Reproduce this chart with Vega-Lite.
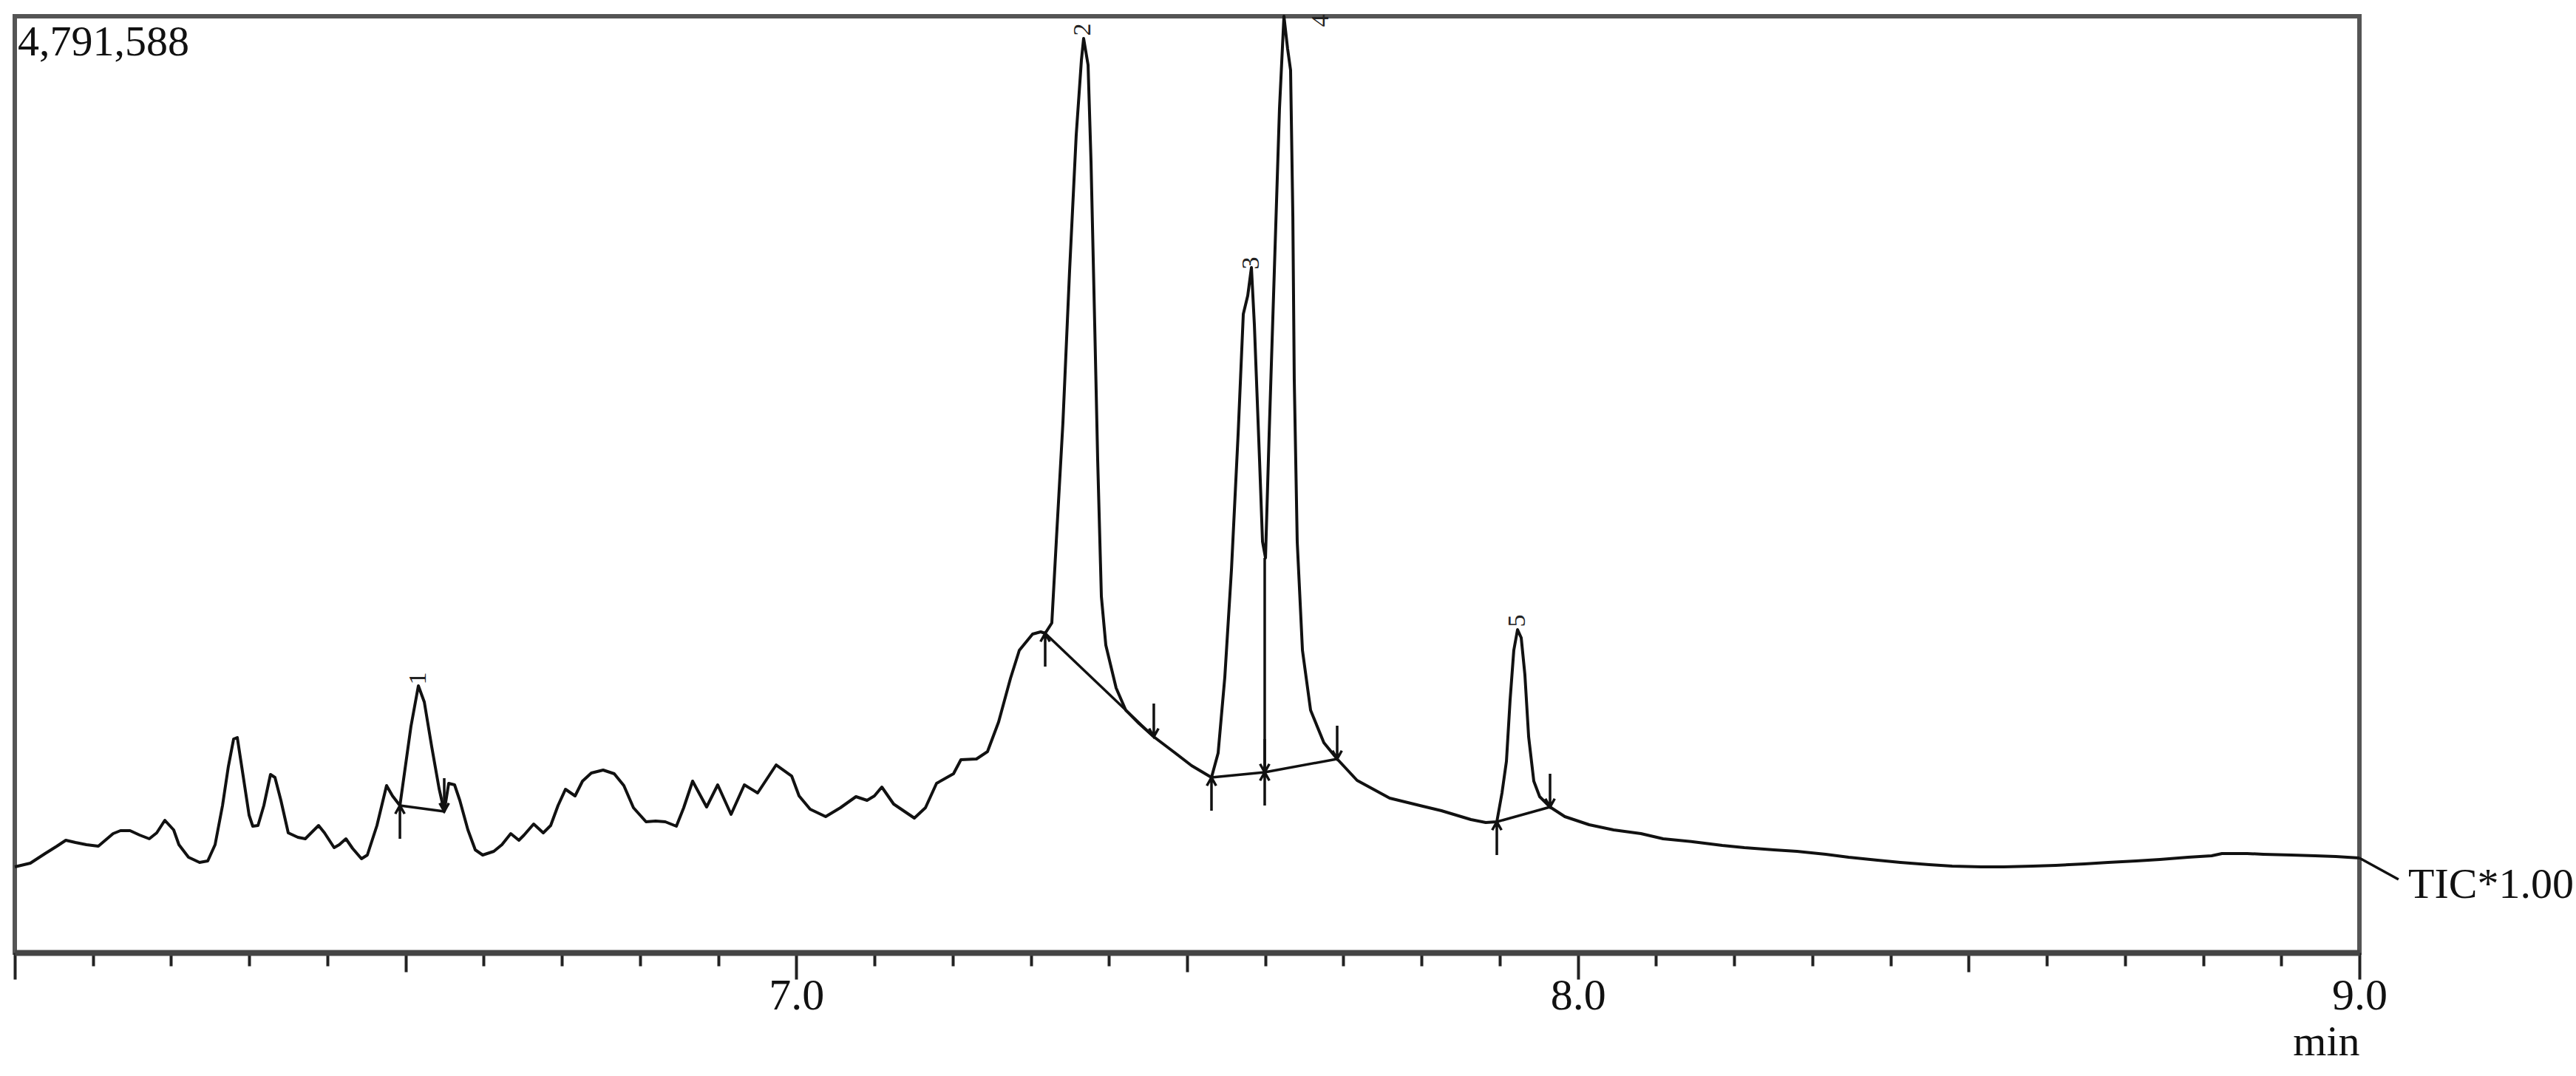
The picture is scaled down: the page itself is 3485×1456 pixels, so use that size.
{
  "$schema": "https://vega.github.io/schema/vega-lite/v6.json",
  "autosize": {"type": "none"},
  "width": 3172,
  "height": 1267,
  "padding": {"left": 20, "top": 22, "right": 293, "bottom": 167},
  "background": "white",
  "config": {"view": {"stroke": "#555", "strokeWidth": 6}, "font": "Liberation Serif"},
  "datasets": {
    "tic": [
      {"t":6.0,"I":438689},{"t":6.0199,"I":457598},{"t":6.0388,"I":506761},{"t":6.0539,"I":544579},{"t":6.0653,"I":574834},{"t":6.0776,"I":563488},{"t":6.0917,"I":552143},{"t":6.1069,"I":544579},{"t":6.1258,"I":608870},{"t":6.1352,"I":623997},{"t":6.1475,"I":623997},{"t":6.1598,"I":601306},{"t":6.1721,"I":582397},{"t":6.1816,"I":612652},{"t":6.192,"I":676942},{"t":6.2033,"I":627779},{"t":6.21,"I":552143},{"t":6.2223,"I":487852},{"t":6.2364,"I":461380},{"t":6.2469,"I":468943},{"t":6.2563,"I":552143},{"t":6.2658,"I":752578},{"t":6.2733,"I":953014},{"t":6.28,"I":1092940},{"t":6.2847,"I":1100504},{"t":6.2922,"I":903850},{"t":6.2998,"I":703415},{"t":6.3045,"I":646688},{"t":6.3112,"I":650470},{"t":6.3187,"I":752578},{"t":6.3272,"I":911414},{"t":6.3329,"I":896287},{"t":6.3405,"I":779051},{"t":6.3499,"I":612652},{"t":6.3622,"I":589961},{"t":6.3717,"I":582397},{"t":6.3811,"I":620215},{"t":6.3887,"I":650470},{"t":6.3963,"I":612652},{"t":6.4086,"I":537016},{"t":6.4152,"I":552143},{"t":6.4237,"I":582397},{"t":6.4322,"I":533234},{"t":6.4436,"I":480289},{"t":6.4511,"I":499198},{"t":6.4634,"I":650470},{"t":6.4757,"I":854687},{"t":6.4833,"I":801742},{"t":6.4928,"I":752578},{"t":6.5069,"I":1157231},{"t":6.5164,"I":1365230},{"t":6.524,"I":1282030},{"t":6.5334,"I":1055122},{"t":6.5429,"I":839560},{"t":6.5495,"I":722324},{"t":6.5552,"I":866032},{"t":6.5627,"I":858469},{"t":6.5694,"I":779051},{"t":6.5798,"I":627779},{"t":6.5892,"I":525670},{"t":6.5987,"I":499198},{"t":6.6129,"I":518107},{"t":6.6233,"I":552143},{"t":6.6346,"I":608870},{"t":6.645,"I":574834},{"t":6.6516,"I":601306},{"t":6.6639,"I":658033},{"t":6.6762,"I":612652},{"t":6.6857,"I":650470},{"t":6.6951,"I":752578},{"t":6.7046,"I":835778},{"t":6.7169,"I":801742},{"t":6.7264,"I":877378},{"t":6.7377,"I":918977},{"t":6.7528,"I":934105},{"t":6.767,"I":915196},{"t":6.7793,"I":854687},{"t":6.7916,"I":741233},{"t":6.8077,"I":669379},{"t":6.82,"I":673160},{"t":6.8323,"I":669379},{"t":6.8465,"I":646688},{"t":6.8559,"I":741233},{"t":6.8673,"I":877378},{"t":6.8852,"I":745015},{"t":6.8994,"I":858469},{"t":6.9165,"I":707197},{"t":6.9335,"I":858469},{"t":6.9505,"I":816869},{"t":6.9742,"I":960577},{"t":6.994,"I":903850},{"t":7.0035,"I":801742},{"t":7.0177,"I":733669},{"t":7.0375,"I":695851},{"t":7.0564,"I":741233},{"t":7.0763,"I":797960},{"t":7.0905,"I":779051},{"t":7.0999,"I":801742},{"t":7.1094,"I":847123},{"t":7.1245,"I":760142},{"t":7.151,"I":688288},{"t":7.1652,"I":741233},{"t":7.1794,"I":866032},{"t":7.2011,"I":915196},{"t":7.2106,"I":987050},{"t":7.2305,"I":990832},{"t":7.2446,"I":1028650},{"t":7.2588,"I":1179922},{"t":7.274,"I":1403048},{"t":7.2853,"I":1546756},{"t":7.3023,"I":1629956},{"t":7.3127,"I":1641301},{"t":7.3184,"I":1633738},{"t":7.3269,"I":1686683},{"t":7.3326,"I":2102681},{"t":7.3411,"I":2711551},{"t":7.3496,"I":3486820},{"t":7.3581,"I":4182671},{"t":7.3648,"I":4568414},{"t":7.3676,"I":4678087},{"t":7.3733,"I":4541942},{"t":7.3771,"I":4042744},{"t":7.3818,"I":3210748},{"t":7.3856,"I":2518679},{"t":7.3903,"I":1822828},{"t":7.396,"I":1573229},{"t":7.4092,"I":1353884},{"t":7.4215,"I":1240430},{"t":7.4385,"I":1172358},{"t":7.4574,"I":1104286},{"t":7.4811,"I":1032431},{"t":7.5057,"I":956795},{"t":7.5312,"I":896287},{"t":7.5397,"I":1021086},{"t":7.5482,"I":1406830},{"t":7.5568,"I":1962754},{"t":7.5653,"I":2654824},{"t":7.5719,"I":3267475},{"t":7.5776,"I":3362020},{"t":7.5823,"I":3505729},{"t":7.5861,"I":3210748},{"t":7.5927,"I":2518679},{"t":7.5965,"I":2102681},{"t":7.6003,"I":2019481},{"t":7.605,"I":2654824},{"t":7.6116,"I":3486820},{"t":7.6182,"I":4318816},{"t":7.6239,"I":4791588},{"t":7.6286,"I":4625141},{"t":7.6324,"I":4515469},{"t":7.6353,"I":3766673},{"t":7.6371,"I":2934677},{"t":7.6409,"I":2102681},{"t":7.6476,"I":1546756},{"t":7.658,"I":1240430},{"t":7.675,"I":1074031},{"t":7.692,"I":990832},{"t":7.7175,"I":881159},{"t":7.7592,"I":790396},{"t":7.8017,"I":748796},{"t":7.8254,"I":726106},{"t":7.8443,"I":703415},{"t":7.8632,"I":680724},{"t":7.8821,"I":665597},{"t":7.8963,"I":669379},{"t":7.9029,"I":816869},{"t":7.9086,"I":979486},{"t":7.9133,"I":1293376},{"t":7.918,"I":1546756},{"t":7.9228,"I":1652647},{"t":7.9275,"I":1611047},{"t":7.9322,"I":1421957},{"t":7.937,"I":1104286},{"t":7.9436,"I":877378},{"t":7.9511,"I":797960},{"t":7.9644,"I":745015},{"t":7.9833,"I":695851},{"t":8.0145,"I":654251},{"t":8.0457,"I":627779},{"t":8.0807,"I":608870},{"t":8.1091,"I":582397},{"t":8.1469,"I":567270},{"t":8.1848,"I":548361},{"t":8.2131,"I":537016},{"t":8.251,"I":525670},{"t":8.2803,"I":518107},{"t":8.3172,"I":502979},{"t":8.3465,"I":487852},{"t":8.3834,"I":472725},{"t":8.4127,"I":461380},{"t":8.4496,"I":450034},{"t":8.4789,"I":442471},{"t":8.5158,"I":438689},{"t":8.5451,"I":438689},{"t":8.582,"I":442471},{"t":8.6113,"I":446252},{"t":8.6482,"I":453816},{"t":8.6784,"I":461380},{"t":8.7144,"I":468943},{"t":8.7447,"I":476507},{"t":8.7806,"I":487852},{"t":8.8109,"I":495416},{"t":8.8241,"I":506761},{"t":8.8563,"I":506761},{"t":8.8771,"I":502979},{"t":8.913,"I":499198},{"t":8.9433,"I":495416},{"t":8.9697,"I":491634},{"t":9.0,"I":484070}
    ],
    "baselines": [
      {"t":6.4928,"I":752578,"t2":6.5495,"I2":722324},
      {"t":7.3184,"I":1633738,"t2":7.4574,"I2":1104286},
      {"t":7.5312,"I":896287,"t2":7.5993,"I2":922759},
      {"t":7.5993,"I":922759,"t2":7.692,"I2":990832},
      {"t":7.8963,"I":669379,"t2":7.9644,"I2":745015},
      {"t":7.5993,"I":2019481,"t2":7.5993,"I2":922759},
      {"t":9.0,"I":484070,"t2":9.05,"I2":374398}
    ],
    "arrows": [
      {"t":6.4928,"I":752578,"dir":"up"},
      {"t":6.5495,"I":722324,"dir":"down"},
      {"t":7.3184,"I":1633738,"dir":"up"},
      {"t":7.4574,"I":1104286,"dir":"down"},
      {"t":7.5312,"I":896287,"dir":"up"},
      {"t":7.5993,"I":922759,"dir":"down"},
      {"t":7.5993,"I":922759,"dir":"up"},
      {"t":7.692,"I":990832,"dir":"down"},
      {"t":7.8963,"I":669379,"dir":"up"},
      {"t":7.9644,"I":745015,"dir":"down"}
    ],
    "peaks": [
      {"t":6.5164,"I":1403048,"label":"1"},
      {"t":7.3667,"I":4723468,"label":"2"},
      {"t":7.5823,"I":3528420,"label":"3"},
      {"t":7.6712,"I":4768850,"label":"4"},
      {"t":7.9228,"I":1698028,"label":"5"}
    ]
  },
  "encoding": {
    "x": {
      "field": "t",
      "type": "quantitative",
      "scale": {"domain": [6, 9], "nice": false, "zero": false},
      "axis": {
        "title": "min",
        "titleFont": "Liberation Serif",
        "titleFontSize": 58,
        "titleFontWeight": "normal",
        "titleColor": "#111",
        "titleAnchor": "end",
        "titleAlign": "right",
        "titlePadding": 4,
        "values": [6,6.1,6.2,6.3,6.4,6.5,6.6,6.7,6.8,6.9,7,7.1,7.2,7.3,7.4,7.5,7.6,7.7,7.8,7.9,8,8.1,8.2,8.3,8.4,8.5,8.6,8.7,8.8,8.9,9],
        "labelExpr": "(datum.value == 7 || datum.value == 8 || datum.value == 9) ? format(datum.value, '.1f') : ''",
        "labelFont": "Liberation Serif",
        "labelFontSize": 60,
        "labelColor": "#111",
        "labelPadding": -7,
        "labelFlush": false,
        "labelOverlap": false,
        "labelBound": false,
        "domainColor": "#444",
        "domainWidth": 8,
        "tickColor": "#222",
        "tickWidth": 4,
        "tickSize": {
          "condition": [
            {"test": "abs(datum.value - round(datum.value)) < 0.001", "value": 36},
            {"test": "abs(datum.value * 2 - round(datum.value * 2)) < 0.001", "value": 26}
          ],
          "value": 18
        },
        "grid": false
      }
    },
    "y": {
      "field": "I",
      "type": "quantitative",
      "scale": {"domain": [0, 4791588], "nice": false, "zero": false},
      "axis": null
    }
  },
  "layer": [
    {
      "data": {"name": "tic"},
      "mark": {"type": "line", "color": "#111", "strokeWidth": 4, "strokeJoin": "round"}
    },
    {
      "data": {"name": "baselines"},
      "mark": {"type": "rule", "color": "#111", "strokeWidth": 3.5},
      "encoding": {
        "x2": {"field": "t2"},
        "y2": {"field": "I2"}
      }
    },
    {
      "data": {"name": "arrows"},
      "mark": {"type": "point", "filled": false, "stroke": "#111", "strokeWidth": 3.5, "size": 2025, "opacity": 1},
      "encoding": {
        "shape": {
          "field": "dir",
          "type": "nominal",
          "scale": {"domain": ["up", "down"], "range": ["M0,0L0,2M-0.28,0.5L0,0L0.28,0.5", "M0,0L0,-2M-0.28,-0.5L0,0L0.28,-0.5"]},
          "legend": null
        }
      }
    },
    {
      "data": {"name": "peaks"},
      "mark": {"type": "text", "font": "Liberation Serif", "fontSize": 34, "angle": 270, "align": "center", "baseline": "middle", "color": "#222"},
      "encoding": {"text": {"field": "label"}}
    },
    {
      "data": {"values": [{"t": 6, "I": 4791588, "label": "4,791,588"}]},
      "mark": {"type": "text", "font": "Liberation Serif", "fontSize": 58, "align": "left", "baseline": "alphabetic", "dx": 4, "dy": 53, "color": "#111"},
      "encoding": {"text": {"field": "label"}}
    },
    {
      "data": {"values": [{"t": 9, "I": 484070, "label": "TIC*1.00"}]},
      "mark": {"type": "text", "font": "Liberation Serif", "fontSize": 58, "align": "left", "baseline": "alphabetic", "dx": 66, "dy": 54, "color": "#111"},
      "encoding": {"text": {"field": "label"}}
    }
  ]
}
